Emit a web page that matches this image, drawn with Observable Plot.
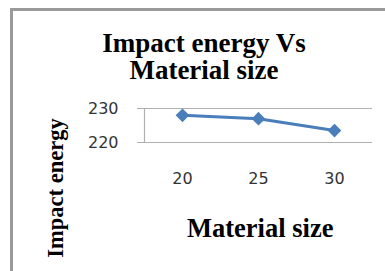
<!DOCTYPE html>
<html>
<head>
<meta charset="utf-8">
<script src="https://cdn.jsdelivr.net/npm/d3@7"></script>
<script src="https://cdn.jsdelivr.net/npm/@observablehq/plot@0.6"></script>
<style>
  html, body { margin: 0; padding: 0; background: #fff; }
  #wrap { position: relative; width: 385px; height: 271px; overflow: hidden; background: #fff; }
  #wrap svg { position: absolute; left: 0; top: 0; }
  .border { position: absolute; left: 10px; top: 8px; right: -10px; bottom: -10px;
            border-top: 3px solid #9a9a9a; border-left: 3px solid #9a9a9a; }
  .serif { position: absolute; font-family: "Liberation Serif", "Times New Roman", serif;
           font-weight: bold; color: #000; white-space: nowrap; }
  #title { left: 0; width: 408px; top: 30px; text-align: center; font-size: 27px; line-height: 27px; }
  #xtitle { left: 187px; top: 215px; font-size: 26.5px; line-height: 1; }
  #ytitle { left: 56px; top: 187.5px; font-size: 22.5px; line-height: 1; transform: translate(-50%, -50%) rotate(-90deg); }
</style>
</head>
<body>
<div id="wrap">
  <div class="border"></div>
  <div class="serif" id="title">Impact energy Vs<br>Material size</div>
  <div class="serif" id="xtitle">Material size</div>
  <div class="serif" id="ytitle">Impact energy</div>
</div>
<script>
const materialSize = [20, 25, 30];
const impactEnergy = [228, 227, 223.5];
const xTicks = [20, 25, 30];
const yTicks = [220, 230];

const data = materialSize.map((s, i) => ({size: s, energy: impactEnergy[i]}));

const chart = Plot.plot({
  width: 385,
  height: 271,
  marginLeft: 144,
  marginRight: 13,
  marginTop: 108,
  marginBottom: 129,
  style: {background: "transparent", fontFamily: "'DejaVu Sans', sans-serif", fontSize: "16px", color: "#333"},
  x: {domain: [17.5, 32.5]},
  y: {domain: [220, 230]},
  marks: [
    Plot.ruleY(yTicks, {stroke: "#b0b0b0", strokeWidth: 1.2}),
    Plot.ruleX([17.5], {stroke: "#b0b0b0", strokeWidth: 1.2}),
    Plot.axisY({ticks: yTicks, tickSize: 7, tickPadding: 19, stroke: "#b0b0b0", fill: "#333", fontSize: 16, label: null}),
    Plot.axisX({ticks: xTicks, tickSize: 0, tickPadding: 30, fill: "#333", fontSize: 16, label: null}),
    Plot.line(data, {x: "size", y: "energy", stroke: "#4a7ebb", strokeWidth: 3}),
    Plot.dot(data, {x: "size", y: "energy", symbol: "diamond2", r: 5.2, fill: "#4a7ebb", stroke: "#4a7ebb"})
  ]
});
document.getElementById("wrap").prepend(chart);
</script>
</body>
</html>
